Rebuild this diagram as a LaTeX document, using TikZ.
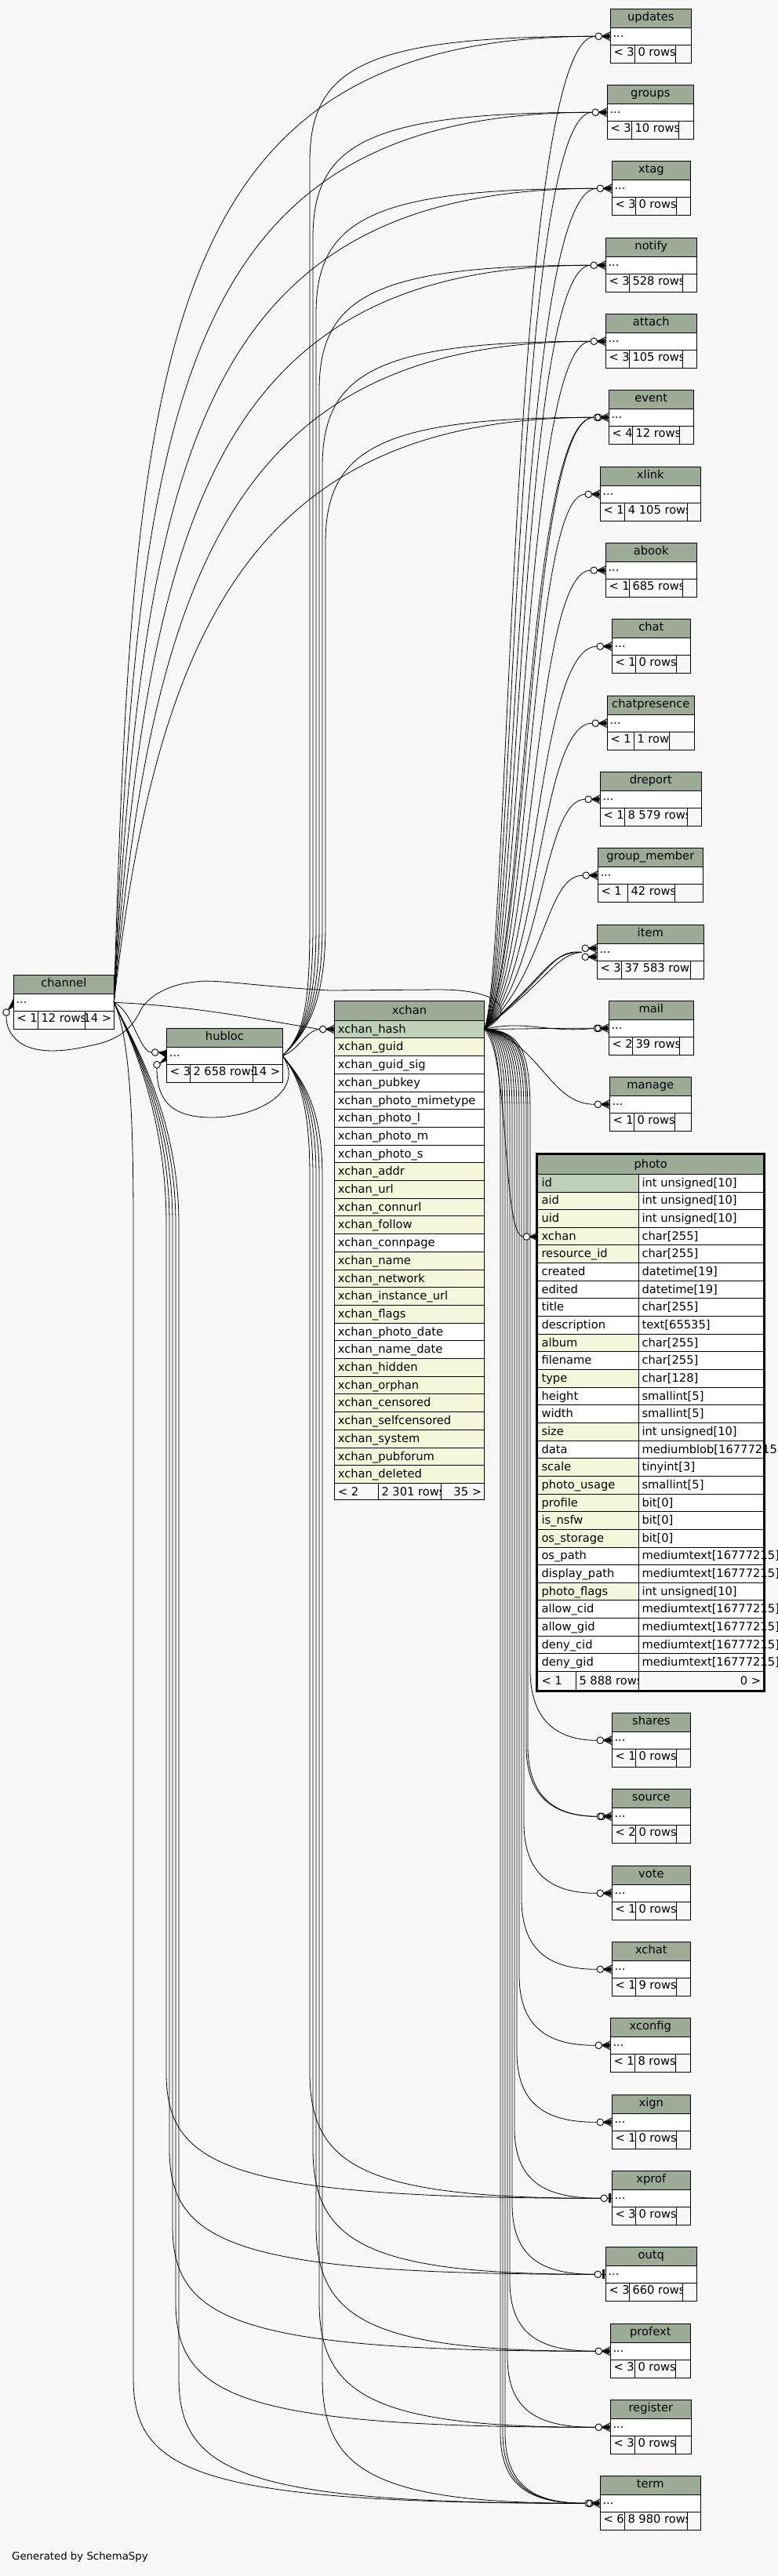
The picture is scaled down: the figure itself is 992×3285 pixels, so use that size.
\documentclass[tikz,border=0pt]{standalone}
\usepackage{fontspec}
\setmainfont{DejaVu Sans}
\definecolor{bg}{HTML}{F7F7F7}
\definecolor{hdr}{HTML}{9CAB96}
\definecolor{pk}{HTML}{BED1B8}
\definecolor{idx}{HTML}{F4F7DA}
\newcommand\tfs{\fontsize{14.67}{17}\selectfont}
% #1 id, #2 title, #3 L, #4 T, #5 R, #6 d1, #7 d2, #8 left footer, #9 mid footer
\newcommand\tbl[9]{%
  \fill[hdr] (#3,#4) rectangle (#5,#4+24);
  \fill[white] (#3,#4+24) rectangle (#5,#4+46);
  \draw[tline] (#3,#4) rectangle (#5,#4+69);
  \draw[tline] (#3,#4+24) -- (#5,#4+24) (#3,#4+46) -- (#5,#4+46) (#6,#4+46) -- (#6,#4+69) (#7,#4+46) -- (#7,#4+69);
  \node[ttl] (#1) at ({(#3+#5)/2},#4+15) {#2};
  \node[cell] at (#3+3,#4+36) {...};
  \node[cell] at (#3+4,#4+60.5) {#8};
  \begin{scope}\clip (#6,#4+46) rectangle (#7,#4+69); \node[cell] at (#6+4,#4+60.5) {#9};\end{scope}
  \coordinate (#1-e) at (#3-19.3,#4+35);
}
\newcommand\crowat[2]{%
  \draw[tline] (#1-11,#2) -- (#1,#2-5.5) (#1-11,#2) -- (#1,#2) (#1-11,#2) -- (#1,#2+5.5);
  \fill (#1-11,#2) -- (#1-1,#2-3.5) -- (#1-1,#2+3.5) -- cycle;
  \draw[tline,fill=white] (#1-15,#2) circle (4.3);
}
\newcommand\oneat[2]{%
  \draw[tline] (#1-6,#2) -- (#1,#2);
  \draw[line width=3pt] (#1-3,#2-6) -- (#1-3,#2+6);
  \draw[tline,fill=white] (#1-10,#2) circle (4.3);
}
% edges
\newcommand\xcu[3]{\draw[edge] (XCo) .. controls (#2,1240) and (#2,#3) .. (#1-e);}
\newcommand\xcd[3]{\draw[edge] (XCo) .. controls (#2-12,1314) and (#2,1340) .. (#2,1420) -- (#2,#3-90) .. controls (#2,#3-20) and (#2+40,#3) .. (#1-e);}
\newcommand\chup[5]{\draw[edge] (CHo) .. controls (#2,#3) and (#4,#5) .. (#1-e);}
\newcommand\hbup[3]{\draw[edge] (HBo) .. controls (385,1322) and (#2,1290) .. (#2,1180) -- (#2,#3+160) .. controls (#2,#3+40) and (#2+70,#3) .. (#1-e);}
\newcommand\hbdn[3]{\draw[edge] (HBo) .. controls (378,1370) and (#2,1400) .. (#2,1500) -- (#2,#3-160) .. controls (#2,#3-40) and (#2+70,#3) .. (#1-e);}
\newcommand\chdn[3]{\draw[edge] (CHo) .. controls (165,1320) and (#2,1420) .. (#2,1560) -- (#2,#3-160) .. controls (#2,#3-40) and (#2+80,#3) .. (#1-e);}
\begin{document}
\begin{tikzpicture}[x=1pt,y=-1pt,
  edge/.style={draw=black,line width=0.8pt},
  tline/.style={draw=black,line width=0.9pt},
  ttl/.style={anchor=base,inner sep=0pt,font=\tfs},
  cell/.style={anchor=base west,inner sep=0pt,font=\tfs},
  cellr/.style={anchor=base east,inner sep=0pt,font=\tfs}]
\useasboundingbox (0,0) rectangle (992,3285);
\fill[bg] (0,0) rectangle (992,3285);

% ---------- small tables on the right ----------
\tbl{updates}{updates}{778.3}{11.3}{881.3}{809.3}{861.3}{< 3}{0 rows}
\tbl{groups}{groups}{774.3}{108.3}{884.3}{805.3}{865.3}{< 3}{10 rows}
\tbl{xtag}{xtag}{780.3}{205.3}{880.3}{810.3}{862.3}{< 3}{0 rows}
\tbl{notify}{notify}{772.3}{303.3}{888.3}{802.3}{870.3}{< 3}{528 rows}
\tbl{attach}{attach}{772.3}{400.3}{888.3}{802.3}{870.3}{< 3}{105 rows}
\tbl{event}{event}{776.3}{497.3}{884.3}{806.3}{866.3}{< 4}{12 rows}
\tbl{xlink}{xlink}{765.3}{595.3}{893.3}{796.7}{876.7}{< 1}{4 105 rows}
\tbl{abook}{abook}{772.3}{692.3}{888.3}{802.3}{870.3}{< 1}{685 rows}
\tbl{chat}{chat}{780.3}{789.3}{880.3}{810.3}{862.3}{< 1}{0 rows}
\tbl{chatpresence}{chatpresence}{774.3}{887.3}{885.3}{808.3}{853.3}{< 1}{1 row}
\tbl{dreport}{dreport}{765.3}{984.3}{894.3}{796.3}{876.3}{< 1}{8 579 rows}
\tbl{groupmember}{group\_member}{762.3}{1081.3}{896.3}{800.3}{860.3}{< 1}{42 rows}
\tbl{item}{item}{761.3}{1179.3}{897.3}{792.3}{880.3}{< 3}{37 583 rows}
\tbl{mail}{mail}{776.3}{1276.3}{884.3}{806.3}{866.3}{< 2}{39 rows}
\tbl{manage}{manage}{777.3}{1373.3}{881.3}{808.3}{860.3}{< 1}{0 rows}
\tbl{shares}{shares}{780.3}{2184.3}{880.3}{810.3}{862.3}{< 1}{0 rows}
\tbl{source}{source}{780.3}{2281.3}{880.3}{810.3}{862.3}{< 2}{0 rows}
\tbl{vote}{vote}{780.3}{2379.3}{880.3}{810.3}{862.3}{< 1}{0 rows}
\tbl{xchat}{xchat}{780.3}{2476.3}{880.3}{810.3}{862.3}{< 1}{9 rows}
\tbl{xconfig}{xconfig}{778.3}{2573.3}{880.3}{809.3}{861.3}{< 1}{8 rows}
\tbl{xign}{xign}{780.3}{2671.3}{880.3}{810.3}{862.3}{< 1}{0 rows}
\tbl{xprof}{xprof}{780.3}{2768.3}{880.3}{810.3}{862.3}{< 3}{0 rows}
\tbl{outq}{outq}{772.3}{2865.3}{888.3}{802.3}{870.3}{< 3}{660 rows}
\tbl{profext}{profext}{778.3}{2963.3}{880.3}{809.3}{861.3}{< 3}{0 rows}
\tbl{register}{register}{778.3}{3060.3}{881.3}{809.3}{861.3}{< 3}{0 rows}
\tbl{term}{term}{765.3}{3157.3}{893.3}{796.3}{876.3}{< 6}{8 980 rows}
\coordinate (xprof-e) at (766,2803.3);
\coordinate (outq-e) at (758,2900.3);

% ---------- channel and hubloc ----------
\tbl{channel}{channel}{17.3}{1243.3}{145.3}{48.3}{108.7}{< 1}{12 rows}
\node[cellr] at (142.3,1303.8) {14 >};
\tbl{hubloc}{hubloc}{212.7}{1311.3}{360.3}{242.3}{322.3}{< 3}{2 658 rows}
\node[cellr] at (357.3,1371.8) {14 >};
\coordinate (CHo) at (145.3,1278.3);
\coordinate (HBo) at (360.3,1346.2);
\coordinate (hubloc-e1) at (193.4,1342);
\coordinate (hubloc-e2) at (200,1362);
\coordinate (channel-e) at (8,1295.3);

% ---------- xchan ----------
\fill[hdr] (426.7,1276.8) rectangle (617.3,1301.2);
\node[ttl] (xchan) at (522,1293) {xchan};
\foreach \n/\c [count=\i from 0] in {xchan\_hash/pk,xchan\_guid/idx,xchan\_guid\_sig/white,xchan\_pubkey/white,xchan\_photo\_mimetype/white,xchan\_photo\_l/white,xchan\_photo\_m/white,xchan\_photo\_s/white,xchan\_addr/idx,xchan\_url/idx,xchan\_connurl/idx,xchan\_follow/idx,xchan\_connpage/white,xchan\_name/idx,xchan\_network/idx,xchan\_instance\_url/idx,xchan\_flags/idx,xchan\_photo\_date/white,xchan\_name\_date/white,xchan\_hidden/idx,xchan\_orphan/idx,xchan\_censored/idx,xchan\_selfcensored/idx,xchan\_system/idx,xchan\_pubforum/idx,xchan\_deleted/idx}{
  \pgfmathsetmacro\yt{1301.2+22.7*\i}
  \fill[\c] (426.7,\yt) rectangle (617.3,\yt+22.7);
  \draw[tline] (426.7,\yt) -- (617.3,\yt);
  \node[cell] at (430.7,\yt+16) {\n};
}
\draw[tline] (426.7,1891.4) -- (617.3,1891.4) (482.3,1891.4) -- (482.3,1912.4) (562.7,1891.4) -- (562.7,1912.4);
\draw[tline] (426.7,1276.8) rectangle (617.3,1912.4);
\node[cell] at (430.7,1907) {< 2};
\begin{scope}\clip (482.3,1891.4) rectangle (562.7,1912.4); \node[cell] at (486.3,1907) {2 301 rows};\end{scope}
\node[cellr] at (614.3,1907) {35 >};
\coordinate (XCo) at (617.3,1312.5);
\coordinate (xchan-e) at (407.4,1312.5);

% ---------- photo ----------
\fill[hdr] (686.3,1472.5) rectangle (973.3,1497.3);
\node[ttl] (photo) at (829.8,1489) {photo};
\foreach \n/\c/\t [count=\i from 0] in {id/pk/{int unsigned[10]},aid/idx/{int unsigned[10]},uid/idx/{int unsigned[10]},xchan/idx/{char[255]},resource\_id/idx/{char[255]},created/white/{datetime[19]},edited/white/{datetime[19]},title/white/{char[255]},description/white/{text[65535]},album/idx/{char[255]},filename/white/{char[255]},type/idx/{char[128]},height/white/{smallint[5]},width/white/{smallint[5]},size/idx/{int unsigned[10]},data/white/{mediumblob[16777215]},scale/idx/{tinyint[3]},photo\_usage/idx/{smallint[5]},profile/idx/{bit[0]},is\_nsfw/idx/{bit[0]},os\_storage/idx/{bit[0]},os\_path/white/{mediumtext[16777215]},display\_path/white/{mediumtext[16777215]},photo\_flags/idx/{int unsigned[10]},allow\_cid/white/{mediumtext[16777215]},allow\_gid/white/{mediumtext[16777215]},deny\_cid/white/{mediumtext[16777215]},deny\_gid/white/{mediumtext[16777215]}}{
  \pgfmathsetmacro\yt{1497.3+22.65*\i}
  \fill[\c] (686.3,\yt) rectangle (814.3,\yt+22.65);
  \fill[white] (814.3,\yt) rectangle (973.3,\yt+22.65);
  \draw[tline] (686.3,\yt) -- (973.3,\yt) (814.3,\yt) -- (814.3,\yt+22.65);
  \node[cell] at (690.3,\yt+16) {\n};
  \node[cell] at (818.3,\yt+16) {\t};
}
\draw[tline] (686.3,2131.5) -- (973.3,2131.5) (734.3,2131.5) -- (734.3,2154.5) (814.3,2131.5) -- (814.3,2154.5);
\node[cell] at (690.3,2148) {< 1};
\begin{scope}\clip (734.3,2131.5) rectangle (814.3,2154.5); \node[cell] at (738.3,2148) {5 888 rows};\end{scope}
\node[cellr] at (970.3,2148) {0 >};
\draw[line width=3pt] (684.8,1471) rectangle (974.8,2156);
\coordinate (photo-e) at (667,1577);

% ---------- connectors from xchan ----------
\xcu{updates}{650}{46.3}
\xcu{groups}{654}{143.3}
\xcu{xtag}{658}{240.3}
\xcu{notify}{662}{338.3}
\xcu{attach}{666}{435.3}
\xcu{event}{670}{532.3}
\xcu{event}{673}{532.3}
\xcu{xlink}{676}{630.3}
\xcu{abook}{680}{727.3}
\xcu{chat}{684}{824.3}
\xcu{chatpresence}{688}{922.3}
\xcu{dreport}{692}{1019.3}
\xcu{groupmember}{696}{1116.3}
\xcu{item}{700}{1214.3}
\xcu{item}{704}{1210.3}
\xcu{item}{708}{1218.3}
\draw[edge] (XCo) .. controls (680,1312) and (700,1311) .. (mail-e);
\draw[edge] (XCo) .. controls (670,1300) and (700,1318) .. (mail-e);
\draw[edge] (XCo) .. controls (690,1330) and (700,1408) .. (manage-e);
\draw[edge] (XCo) .. controls (650,1340) and (640,1577) .. (photo-e);
\xcd{shares}{676}{2219.3}
\xcd{source}{673}{2316.3}
\xcd{source}{671}{2316.3}
\xcd{vote}{668}{2414.3}
\xcd{xchat}{665}{2511.3}
\xcd{xconfig}{662}{2608.3}
\xcd{xign}{659}{2706.3}
\xcd{xprof}{656}{2803.3}
\xcd{outq}{653}{2900.3}
\xcd{profext}{650}{2998.3}
\xcd{register}{647}{3095.3}
\xcd{term}{644}{3192.3}
\xcd{term}{641}{3192.3}
\xcd{term}{638}{3192.3}
\draw[edge] (XCo) .. controls (660,1290) and (640,1262) .. (560,1262) -- (420,1263) .. controls (330,1258) and (270,1248) .. (250,1252) .. controls (215,1255) and (190,1270) .. (180,1287) .. controls (172,1303) and (160,1325) .. (117,1333) .. controls (80,1342) and (40,1345) .. (20,1325) .. controls (10,1315) and (8,1305) .. (channel-e);

% ---------- connectors from channel ----------
\chup{updates}{170}{450}{200}{46.3}
\chup{groups}{176}{520}{225}{143.3}
\chup{xtag}{182}{590}{250}{240.3}
\chup{notify}{188}{660}{275}{338.3}
\chup{attach}{194}{730}{300}{435.3}
\chup{event}{200}{800}{325}{532.3}
\chdn{xprof}{212}{2803.3}
\chdn{outq}{216}{2900.3}
\chdn{profext}{220}{2998.3}
\chdn{register}{224}{3095.3}
\chdn{term}{228}{3192.3}
\chdn{term}{170}{3192.3}
\draw[edge] (CHo) .. controls (250,1283) and (330,1300) .. (xchan-e);
\draw[edge] (CHo) .. controls (170,1290) and (178,1342) .. (hubloc-e1);

% ---------- connectors from hubloc ----------
\hbup{updates}{395}{46.3}
\hbup{groups}{399}{143.3}
\hbup{xtag}{403}{240.3}
\hbup{notify}{407}{338.3}
\hbup{attach}{411}{435.3}
\hbup{event}{415}{532.3}
\hbdn{xprof}{395}{2803.3}
\hbdn{outq}{399}{2900.3}
\hbdn{profext}{403}{2998.3}
\hbdn{register}{407}{3095.3}
\hbdn{term}{411}{3192.3}
\draw[edge] (HBo) .. controls (380,1340) and (390,1314) .. (xchan-e);
\draw[edge] (HBo) .. controls (390,1390) and (330,1425) .. (270,1425) .. controls (215,1425) and (200,1400) .. (hubloc-e2);

% ---------- end marks ----------
\crowat{778.3}{46.3}
\crowat{774.3}{143.3}
\crowat{780.3}{240.3}
\crowat{772.3}{338.3}
\crowat{772.3}{435.3}
\crowat{776.3}{532.3}
\draw[tline] (763.3,532.3) circle (4.3);
\crowat{765.3}{630.3}
\crowat{772.3}{727.3}
\crowat{780.3}{824.3}
\crowat{774.3}{922.3}
\crowat{765.3}{1019.3}
\crowat{762.3}{1116.3}
\crowat{761.3}{1209.3}
\crowat{761.3}{1220.3}
\crowat{776.3}{1311.3}
\draw[tline] (763.3,1311.3) circle (4.3);
\crowat{777.3}{1408.3}
\crowat{686.3}{1577}
\crowat{780.3}{2219.3}
\crowat{780.3}{2316.3}
\draw[tline] (767.3,2316.3) circle (4.3);
\crowat{780.3}{2414.3}
\crowat{780.3}{2511.3}
\crowat{778.3}{2608.3}
\crowat{780.3}{2706.3}
\oneat{780.3}{2803.3}
\oneat{772.3}{2900.3}
\crowat{778.3}{2998.3}
\crowat{778.3}{3095.3}
\crowat{765.3}{3192.3}
\draw[tline] (752.3,3192.3) circle (4.3);
\crowat{426.7}{1312.5}
% hubloc marks
\draw[tline] (201.9,1342) -- (212.7,1341) (201.9,1342) -- (212.7,1346) (204,1356) -- (212.7,1346) (204,1356) -- (212.7,1351);
\fill (201.9,1342) -- (212,1339) -- (212,1349) -- cycle;
\fill (204,1356) -- (212,1346) -- (212,1353) -- cycle;
\draw[tline,fill=white] (197.7,1342) circle (4.3);
\draw[tline,fill=white] (200,1357.7) circle (4.3);
% channel mark
\draw[tline] (10.5,1287.5) -- (17.3,1274) (10.5,1287.5) -- (17.3,1279) (10.5,1287.5) -- (17.3,1284);
\fill (10.5,1287.5) -- (17,1275) -- (17,1283) -- cycle;
\draw[tline,fill=white] (8,1291) circle (4.3);

\node[anchor=base west,inner sep=0pt,font=\fontsize{13.3}{15}\selectfont] (gen) at (15,3264) {Generated by SchemaSpy};
\end{tikzpicture}
\end{document}
